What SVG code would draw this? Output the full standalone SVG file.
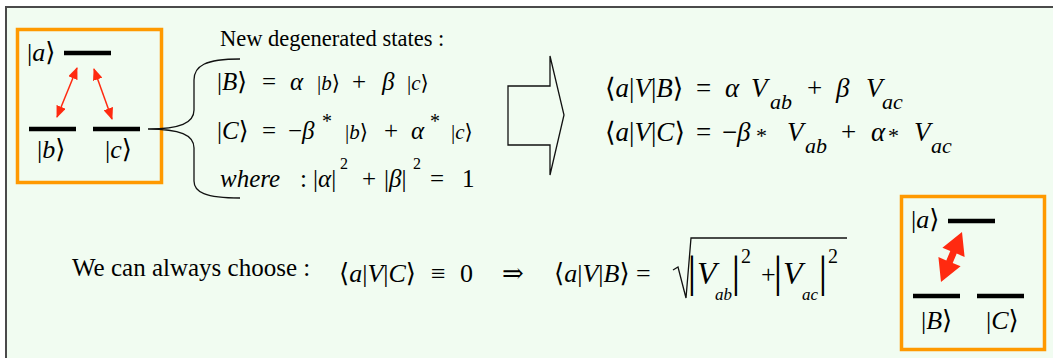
<svg xmlns="http://www.w3.org/2000/svg" width="1053" height="358" viewBox="0 0 1053 358">
<style>
.t{font-family:"Liberation Serif","DejaVu Serif",serif;fill:#000}
.i{font-style:italic}
.box{fill:none;stroke:#FF9900;stroke-width:3.5}
.lvl{stroke:#000;stroke-width:4.5}
.thin{stroke:#FF2A10;stroke-width:1.5;fill:none}
.ln{fill:none;stroke:#111;stroke-width:1.3}
</style>
<defs>
<marker id="rh" viewBox="0 0 12 10" refX="11" refY="5" markerWidth="12" markerHeight="10" markerUnits="userSpaceOnUse" orient="auto-start-reverse">
<path d="M0,0 L12,5 L0,10 Z" fill="#FF2A10"/>
</marker>
</defs>
<rect x="6" y="7" width="1060" height="360" fill="#F1FCF1" stroke="#4a4a4a" stroke-width="2"/>

<g id="left-system">
<rect class="box" x="17.5" y="29.5" width="144" height="153"/>
<line class="lvl" x1="64" y1="53" x2="111" y2="53"/>
<line class="lvl" x1="29" y1="129" x2="76" y2="129"/>
<line class="lvl" x1="93" y1="129" x2="140" y2="129"/>
<text class="t" x="27" y="61" font-size="26">|<tspan class="i">a</tspan>⟩</text>
<text class="t" x="37" y="158" font-size="26">|<tspan class="i">b</tspan>⟩</text>
<text class="t" x="105" y="158" font-size="26">|<tspan class="i">c</tspan>⟩</text>
<line class="thin" x1="77" y1="68" x2="57" y2="117" marker-start="url(#rh)" marker-end="url(#rh)"/>
<line class="thin" x1="94" y1="69" x2="112" y2="119" marker-start="url(#rh)" marker-end="url(#rh)"/>
</g>

<g id="connectors">
<path class="ln" d="M240,59 C205,59 194,66 194,80 L194,110 C194,123 180,129 148,129 C180,129 194,135 194,148 L194,181 C194,192 205,198 240,198"/>
<polygon class="ln" points="508,86 550,86 550,56 564,115 550,175 550,145 508,145"/>
</g>

<g id="new-states">
<text class="t" x="220" y="46" font-size="22.5">New degenerated states :</text>
<g font-size="25">
<text class="t" x="217" y="90">|<tspan class="i">B</tspan>⟩</text>
<text class="t" x="262" y="90">=</text>
<text class="t i" x="290" y="90">α</text>
<text class="t" x="317" y="90" font-size="21">|<tspan class="i">b</tspan>⟩</text>
<text class="t" x="352" y="90">+</text>
<text class="t i" x="382" y="90">β</text>
<text class="t" x="407" y="90" font-size="21">|<tspan class="i">c</tspan>⟩</text>

<text class="t" x="217" y="139">|<tspan class="i">C</tspan>⟩</text>
<text class="t" x="262" y="139">=</text>
<text class="t" x="288" y="139">−</text>
<text class="t i" x="302" y="139">β</text>
<text class="t" x="322" y="128" font-size="20">*</text>
<text class="t" x="345" y="139" font-size="21">|<tspan class="i">b</tspan>⟩</text>
<text class="t" x="384" y="139">+</text>
<text class="t i" x="411" y="139">α</text>
<text class="t" x="430" y="128" font-size="20">*</text>
<text class="t" x="451" y="139" font-size="21">|<tspan class="i">c</tspan>⟩</text>

<text class="t i" x="220" y="187">where</text>
<text class="t" x="300" y="187">:</text>
<text class="t" x="313" y="187">|<tspan class="i">α</tspan>|</text>
<text class="t" x="340" y="169" font-size="16">2</text>
<text class="t" x="362" y="187">+</text>
<text class="t" x="384" y="187">|<tspan class="i">β</tspan>|</text>
<text class="t" x="413" y="169" font-size="16">2</text>
<text class="t" x="430" y="187">=</text>
<text class="t" x="462" y="187">1</text>
</g>
</g>

<g id="matrix-elements" font-size="27">
<text class="t" x="605" y="97">⟨<tspan class="i">a</tspan>|<tspan class="i">V</tspan>|<tspan class="i">B</tspan>⟩</text>
<text class="t" x="696" y="97">=</text>
<text class="t i" x="725" y="97">α</text>
<text class="t i" x="751" y="97">V</text>
<text class="t i" x="770" y="109" font-size="22">ab</text>
<text class="t" x="807" y="97">+</text>
<text class="t i" x="836" y="97">β</text>
<text class="t i" x="866" y="97">V</text>
<text class="t i" x="882" y="109" font-size="22">ac</text>

<text class="t" x="605" y="141">⟨<tspan class="i">a</tspan>|<tspan class="i">V</tspan>|<tspan class="i">C</tspan>⟩</text>
<text class="t" x="696" y="141">=</text>
<text class="t" x="722" y="141">−</text>
<text class="t i" x="737" y="141">β</text>
<text class="t" x="756" y="143" font-size="22">*</text>
<text class="t i" x="787" y="141">V</text>
<text class="t i" x="805" y="153" font-size="22">ab</text>
<text class="t" x="841" y="141">+</text>
<text class="t i" x="871" y="141">α</text>
<text class="t" x="888" y="143" font-size="22">*</text>
<text class="t i" x="914" y="141">V</text>
<text class="t i" x="931" y="153" font-size="22">ac</text>
</g>

<g id="choice">
<text class="t" x="72" y="276" font-size="25">We can always choose :</text>
<g font-size="26">
<text class="t" x="339" y="282">⟨<tspan class="i">a</tspan>|<tspan class="i">V</tspan>|<tspan class="i">C</tspan>⟩</text>
<text class="t" x="431" y="282">≡</text>
<text class="t" x="460" y="282">0</text>
<text class="t" x="502" y="282">⇒</text>
<text class="t" x="554" y="282">⟨<tspan class="i">a</tspan>|<tspan class="i">V</tspan>|<tspan class="i">B</tspan>⟩</text>
<text class="t" x="636" y="282">=</text>
</g>
<polyline class="ln" points="673,270 678,267 686,298 691,238 847,238"/>
<text class="t" x="687.6" y="287" font-size="44">|</text>
<text class="t i" x="697" y="284" font-size="32">V</text>
<text class="t i" x="715" y="300" font-size="17">ab</text>
<text class="t" x="731.6" y="287" font-size="44">|</text>
<text class="t" x="741" y="263" font-size="20">2</text>
<text class="t" x="761" y="283" font-size="26">+</text>
<text class="t" x="773.6" y="287" font-size="44">|</text>
<text class="t i" x="783" y="284" font-size="32">V</text>
<text class="t i" x="802" y="300" font-size="17">ac</text>
<text class="t" x="818.6" y="287" font-size="44">|</text>
<text class="t" x="828" y="263" font-size="20">2</text>
</g>

<g id="right-system">
<rect class="box" x="901.5" y="196.5" width="143" height="153"/>
<line class="lvl" x1="948" y1="221" x2="995" y2="221"/>
<line class="lvl" x1="913" y1="296" x2="960" y2="296"/>
<line class="lvl" x1="977" y1="296" x2="1024" y2="296"/>
<text class="t" x="911" y="228" font-size="26">|<tspan class="i">a</tspan>⟩</text>
<text class="t" x="921" y="329" font-size="26">|<tspan class="i">B</tspan>⟩</text>
<text class="t" x="986" y="329" font-size="26">|<tspan class="i">C</tspan>⟩</text>
<polygon fill="#FF2A10" points="962,232 964.6,256.9 956.7,253.6 952.7,263 960.6,266.3 941,282 938.4,257.1 946.3,260.4 950.3,251 942.4,247.7"/>
</g>
</svg>
